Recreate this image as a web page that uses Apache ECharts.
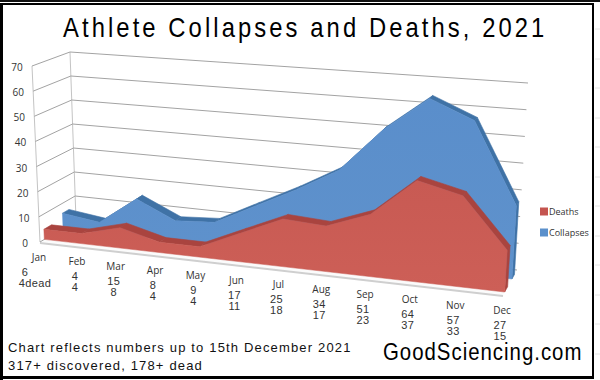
<!DOCTYPE html>
<html><head><meta charset="utf-8">
<style>
html,body{margin:0;padding:0;background:#fff}
#c{width:600px;height:380px}
text[style*="28px"]{letter-spacing:3.63px}
text[style*="24px"]{letter-spacing:1.17px}
text[style*="13px"]{letter-spacing:1.16px}
text[style*="11px"]{letter-spacing:.4px}
</style>
<script src="https://cdn.jsdelivr.net/npm/echarts@6/dist/echarts.min.js"></script>
</head><body><div id="c"></div>
<script>
const categories=['Jan','Feb','Mar','Apr','May','Jun','Jul','Aug','Sep','Oct','Nov','Dec'];
const collapses=[6,4,15,8,9,17,25,34,51,64,57,27];
const deaths=[4,4,8,4,4,11,18,17,23,37,33,15];
const yTicks=[0,10,20,30,40,50,60,70];
const collapseLabels=['6','4','15','8','9','17','25','34','51','64','57','27'];
const deathLabels=['4dead','4','8','4','4','11','18','17','23','37','33','15'];
const titleText='Athlete Collapses and Deaths, 2021';
const noteLines=['Chart reflects numbers up to 15th December 2021','317+ discovered, 178+ dead'];
const siteText='GoodSciencing.com';

// 3D box: the flat grid rectangle is projected onto these corners
const G={l:40,t:60,w:460,h:180};
const FL0=[40,242],FLT=[32,66],BL0=[76,220],BLT=[70,52],FR0=[503,295],FRT=[515,99],BR0=[517,270],BRT=[528,83];
const PERSP=1.12;
const lerp=(a,b,k)=>[a[0]+(b[0]-a[0])*k,a[1]+(b[1]-a[1])*k];
function project(flat,d){
  const t=(flat[0]-G.l)/G.w, n=(G.t+G.h-flat[1])/G.h;
  const s=t<=0?0:t/(t+PERSP*(1-t));
  const base=lerp(lerp(FL0,BL0,d),lerp(FR0,BR0,d),s);
  const top=lerp(lerp(FLT,BLT,d),lerp(FRT,BRT,d),s);
  return lerp(base,top,n);
}
function areaRender(values,front,back,faceColor,sideColor){
  return function(params,api){
    const i=params.dataIndex, kids=[];
    const P=(m,v,d)=>project(api.coord([m,v]),d);
    const poly=(pts,fill)=>({type:'polygon',shape:{points:pts},style:{fill:fill,stroke:fill,lineWidth:.6}});
    if(i<values.length-1){
      kids.push(poly([P(i,values[i],front),P(i,values[i],back),P(i+1,values[i+1],back),P(i+1,values[i+1],front)],sideColor));
    }else{
      kids.push(poly([P(i,values[i],front),P(i,values[i],back),P(i,0,back),P(i,0,front)],sideColor));
      const pts=[P(0,0,front)];
      values.forEach((v,m)=>pts.push(P(m,v,front)));
      pts.push(P(i,0,front));
      kids.push({type:'polygon',shape:{points:pts},style:{
        fill:new echarts.graphic.LinearGradient(0,0,0,1,[{offset:0,color:faceColor[0]},{offset:1,color:faceColor[1]}]),
        stroke:faceColor[0],lineWidth:.5}});
    }
    return {type:'group',children:kids};
  };
}
const gridRender=(params,api)=>{
  const v=yTicks[params.dataIndex];
  const P=(m,d)=>project(api.coord([m,v]),d);
  const a=P(0,0),b=P(0,1),c=P(11,1);
  return {type:'group',children:[
    {type:'polyline',shape:{points:[a,b,c]},style:{fill:'none',stroke:'#a3a3a3',lineWidth:1}},
    {type:'text',style:{x:a[0]-15,y:a[1]+1,text:String(v),fill:'#333',fontSize:10,fontFamily:'Open Sans',align:'center',verticalAlign:'middle'}}
  ]};
};
const boxRender=(params,api)=>{
  const P=(m,v,d)=>project(api.coord([m,v]),d);
  return {type:'group',children:[
    {type:'polygon',shape:{points:[P(0,0,0),P(0,0,1),P(11,0,1),P(11,0,0)]},style:{fill:'#fbfbfb',stroke:'none'}},
    {type:'line',shape:{x1:P(0,0,0)[0],y1:P(0,0,0)[1],x2:P(0,70,0)[0],y2:P(0,70,0)[1]},style:{stroke:'#c4c4c4',lineWidth:1}},
    {type:'line',shape:{x1:P(0,0,1)[0],y1:P(0,0,1)[1],x2:P(0,70,1)[0],y2:P(0,70,1)[1]},style:{stroke:'#c4c4c4',lineWidth:1}},
    {type:'line',shape:{x1:P(0,0,0)[0],y1:P(0,0,0)[1]+1,x2:P(11,0,0)[0],y2:P(11,0,0)[1]+1},style:{stroke:'#cfcfcf',lineWidth:2}}
  ]};
};
const labelRender=(params,api)=>{
  const i=params.dataIndex, p=project(api.coord([i,0]),0);
  const jan=i===0?-12:0;
  const txt=(x,y,text,size,fam,align)=>({type:'text',style:{x:x,y:y,text:text,fill:'#333',fontSize:size,fontFamily:fam,align:align,verticalAlign:'middle'}});
  return {type:'group',children:[
    txt(p[0]-1,p[1]+15,categories[i],10,'Open Sans','center'),
    txt(p[0]-3+jan,p[1]+30,collapseLabels[i],11,'Liberation Sans','center'),
    txt(p[0]-3+(i===0?-2:0),p[1]+41,deathLabels[i],11,'Liberation Sans','center')
  ]};
};
const idx=categories.map((c,i)=>[i,0]);
const chart=echarts.init(document.getElementById('c'),null,{renderer:'svg'});
const excelLines=[];
[29,59,88,118,147,177,206,236,265,295,324,354].forEach(y=>excelLines.push({type:'line',z:-2,shape:{x1:595,y1:y,x2:600,y2:y},style:{stroke:'#e4e4e4',lineWidth:1}}));
chart.setOption({
  animation:false,
  backgroundColor:'#fff',
  grid:{left:G.l,top:G.t,width:G.w,height:G.h},
  xAxis:{type:'value',min:0,max:11,show:false},
  yAxis:{type:'value',min:0,max:70,show:false},
  legend:{orient:'vertical',left:535,top:202,itemWidth:8,itemHeight:8,itemGap:12,icon:'rect',
    data:['Deaths','Collapses'],selectedMode:false,
    textStyle:{fontSize:9,fontFamily:'Open Sans',color:'#333',padding:[0,0,0,-4]}},
  graphic:[
    {type:'rect',z:-1,shape:{x:0,y:0,width:600,height:2},style:{fill:'#111'}},
    {type:'rect',z:-1,shape:{x:0,y:3,width:594,height:2},style:{fill:'#000'}},
    {type:'rect',z:-1,shape:{x:0,y:3,width:3,height:377},style:{fill:'#000'}},
    {type:'rect',z:-1,shape:{x:592,y:3,width:2,height:375},style:{fill:'#000'}},
    {type:'rect',z:-1,shape:{x:0,y:376,width:594,height:3},style:{fill:'#000'}},
    ...excelLines,
    {type:'text',x:63,y:13,scaleX:.85,style:{text:titleText,fontSize:28,fontFamily:'Liberation Sans',fill:'#000'}},
    {type:'text',left:8,top:341,style:{text:noteLines[0],fontSize:13,fontFamily:'Liberation Sans',fill:'#111'}},
    {type:'text',left:8,top:359,style:{text:noteLines[1],fontSize:13,fontFamily:'Liberation Sans',fill:'#111'}},
    {type:'text',x:383,y:340,scaleX:.85,style:{text:siteText,fontSize:24,fontFamily:'Liberation Sans',fill:'#000'}}
  ],
  series:[
    {type:'custom',name:'box',silent:true,coordinateSystem:'cartesian2d',data:[[0,0]],renderItem:boxRender,z:1,encode:{x:0,y:1}},
    {type:'custom',name:'gridlines',silent:true,coordinateSystem:'cartesian2d',data:yTicks.map(v=>[0,v]),renderItem:gridRender,z:2,encode:{x:0,y:1}},
    {type:'custom',name:'Collapses',silent:true,coordinateSystem:'cartesian2d',data:collapses.map((v,i)=>[i,v]),itemStyle:{color:'#5b90cb'},
      renderItem:areaRender(collapses,.64,.82,['#5a8ecb','#5f92cc'],'#3f72a6'),z:3,encode:{x:0,y:1}},
    {type:'custom',name:'Deaths',silent:true,coordinateSystem:'cartesian2d',data:deaths.map((v,i)=>[i,v]),itemStyle:{color:'#c4544f'},
      renderItem:areaRender(deaths,.12,.33,['#c85a53','#cd5f57'],'#a9443f'),z:4,encode:{x:0,y:1}},
    {type:'custom',name:'labels',silent:true,coordinateSystem:'cartesian2d',data:idx,renderItem:labelRender,z:5,encode:{x:0,y:1}}
  ]
});
</script></body></html>
